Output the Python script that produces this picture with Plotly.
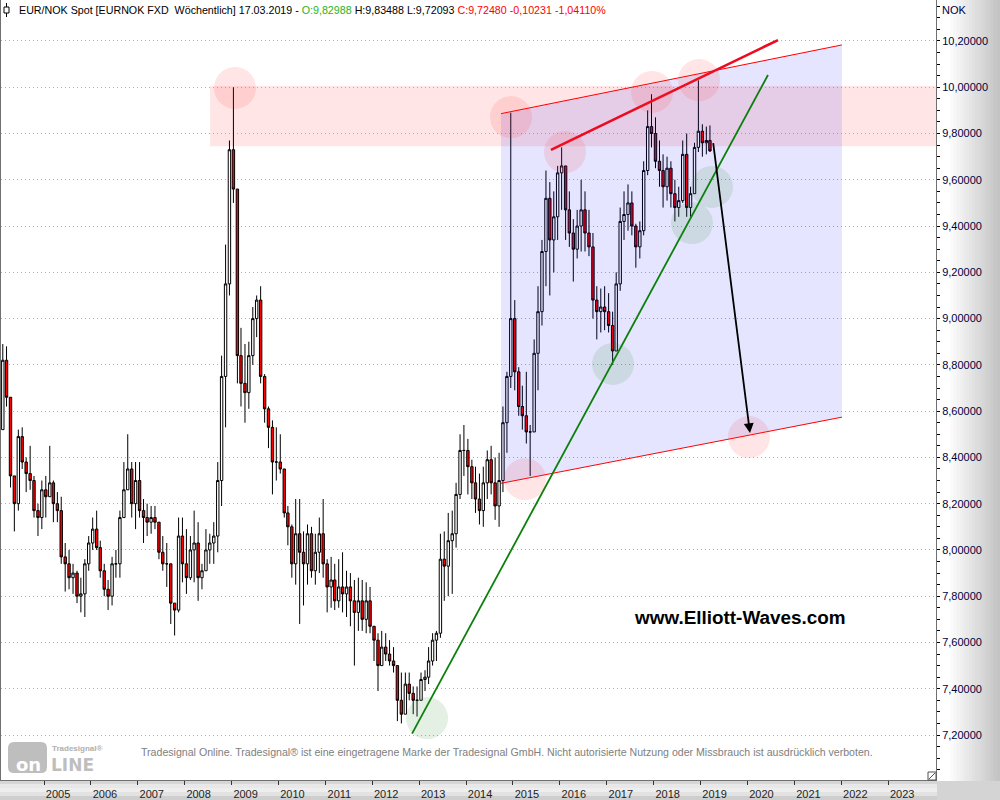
import plotly.graph_objects as go
import pandas as pd

# ---------------- data (monthly OHLC) ----------------
first_month = "2004-02-01"
first_open = 8.52

closes = [
    8.82, 8.66, 8.32, 8.20, 8.49, 8.38, 8.33, 8.30, 8.17, 8.14, 8.26,          # 2004 Feb-Dec
    8.23, 8.29, 8.20, 8.17, 7.97, 7.94, 7.88, 7.90, 7.80, 7.81, 7.94, 8.03,    # 2005
    8.09, 8.01, 7.91, 7.83, 7.80, 7.94, 7.94, 8.14, 8.26, 8.35, 8.20, 8.30,    # 2006
    8.17, 8.14, 8.12, 8.14, 8.12, 7.99, 7.94, 7.94, 7.77, 7.74, 8.06, 7.94,    # 2007
    7.88, 8.00, 8.03, 7.88, 7.91, 8.00, 8.03, 8.06, 8.30, 8.75, 9.15, 9.73,    # 2008
    9.56, 8.84, 8.72, 8.68, 8.84, 9.00, 9.08, 8.75, 8.61, 8.53, 8.38, 8.38,    # 2009
    8.35, 8.16, 8.10, 7.94, 8.07, 7.99, 7.94, 8.07, 7.91, 7.99, 8.07, 7.94,    # 2010
    7.84, 7.87, 7.78, 7.84, 7.81, 7.84, 7.78, 7.73, 7.78, 7.70, 7.78, 7.67,    # 2011
    7.61, 7.50, 7.58, 7.55, 7.52, 7.50, 7.35, 7.29, 7.42, 7.38, 7.35, 7.35,    # 2012
    7.44, 7.45, 7.52, 7.61, 7.64, 7.96, 7.93, 8.04, 8.07, 8.24, 8.43, 8.43,    # 2013
    8.36, 8.29, 8.22, 8.17, 8.29, 8.39, 8.29, 8.19, 8.30, 8.55, 8.75, 9.00,    # 2014
    8.77, 8.62, 8.58, 8.51, 8.51, 8.85, 9.03, 9.29, 9.52, 9.34, 9.44, 9.63,    # 2015
    9.66, 9.47, 9.37, 9.30, 9.40, 9.47, 9.37, 9.31, 9.08, 9.03, 9.05, 9.03,    # 2016
    8.97, 8.86, 9.15, 9.42, 9.45, 9.50, 9.40, 9.31, 9.38, 9.64, 9.83, 9.80,    # 2017
    9.68, 9.64, 9.57, 9.65, 9.54, 9.48, 9.51, 9.71, 9.48, 9.54, 9.74, 9.81,    # 2018
    9.76, 9.77, 9.7248,                                                        # 2019 Jan-Mar
]
highs = [
    8.89, 8.88, 8.66, 8.32, 8.52, 8.53, 8.40, 8.45, 8.32, 8.20, 8.30,
    8.32, 8.45, 8.30, 8.25, 8.23, 8.03, 8.00, 7.94, 7.91, 7.88, 7.96, 8.06,
    8.14, 8.17, 8.04, 7.94, 7.87, 7.97, 8.00, 8.17, 8.38, 8.50, 8.38, 8.38,
    8.38, 8.22, 8.20, 8.19, 8.19, 8.12, 8.06, 8.03, 7.94, 7.77, 8.14, 8.14,
    8.09, 8.06, 8.17, 8.12, 7.94, 8.09, 8.07, 8.12, 8.38, 8.84, 9.32, 9.77,
    10.00, 9.56, 8.96, 8.89, 8.90, 9.05, 9.10, 9.14, 8.76, 8.62, 8.56, 8.53,
    8.50, 8.35, 8.19, 8.11, 8.22, 8.22, 8.08, 8.11, 8.10, 8.07, 8.14, 8.22,
    7.96, 7.97, 7.94, 7.96, 7.99, 7.91, 7.90, 7.87, 7.88, 7.87, 7.86, 7.84,
    7.67, 7.64, 7.65, 7.64, 7.61, 7.58, 7.50, 7.47, 7.47, 7.47, 7.41, 7.41,
    7.47, 7.48, 7.58, 7.64, 7.65, 8.07, 8.08, 8.16, 8.17, 8.29, 8.50, 8.54,
    8.48, 8.39, 8.36, 8.33, 8.36, 8.43, 8.45, 8.40, 8.42, 8.62, 8.77, 9.89,
    9.08, 8.79, 8.71, 8.77, 8.54, 8.91, 9.14, 9.34, 9.64, 9.59, 9.55, 9.66,
    9.74, 9.60, 9.55, 9.43, 9.47, 9.60, 9.55, 9.47, 9.37, 9.14, 9.13, 9.14,
    9.11, 9.03, 9.20, 9.48, 9.55, 9.58, 9.55, 9.41, 9.42, 9.68, 9.90, 9.97,
    9.87, 9.77, 9.71, 9.70, 9.68, 9.60, 9.57, 9.77, 9.80, 9.57, 9.76, 10.03,
    9.84, 9.83, 9.835,
]
lows = [
    8.52, 8.62, 8.27, 8.08, 8.17, 8.35, 8.25, 8.26, 8.14, 8.06, 8.09,
    8.14, 8.23, 8.12, 8.12, 7.94, 7.82, 7.83, 7.81, 7.77, 7.73, 7.71, 7.91,
    8.00, 8.00, 7.88, 7.80, 7.74, 7.76, 7.88, 7.88, 8.14, 8.26, 8.14, 8.09,
    8.14, 8.03, 8.06, 8.07, 8.09, 7.96, 7.91, 7.84, 7.68, 7.63, 7.73, 7.86,
    7.81, 7.87, 7.86, 7.78, 7.83, 7.91, 7.94, 7.94, 7.99, 8.19, 8.53, 9.10,
    9.50, 8.72, 8.62, 8.55, 8.61, 8.80, 8.92, 8.72, 8.55, 8.44, 8.24, 8.30,
    8.33, 8.14, 8.02, 7.88, 7.85, 7.68, 7.76, 7.85, 7.88, 7.85, 7.90, 7.88,
    7.73, 7.75, 7.74, 7.75, 7.73, 7.71, 7.67, 7.50, 7.65, 7.65, 7.64, 7.64,
    7.52, 7.39, 7.50, 7.52, 7.50, 7.47, 7.26, 7.25, 7.32, 7.35, 7.29, 7.28,
    7.35, 7.39, 7.42, 7.50, 7.52, 7.62, 7.78, 7.80, 7.81, 8.01, 8.22, 8.32,
    8.24, 8.22, 8.16, 8.11, 8.10, 8.22, 8.24, 8.13, 8.10, 8.25, 8.42, 8.70,
    8.69, 8.58, 8.52, 8.46, 8.32, 8.51, 8.69, 8.97, 9.14, 9.10, 9.20, 9.34,
    9.47, 9.34, 9.31, 9.16, 9.26, 9.29, 9.29, 9.27, 9.00, 8.91, 8.94, 8.95,
    8.94, 8.80, 8.86, 9.12, 9.34, 9.38, 9.36, 9.22, 9.26, 9.36, 9.62, 9.74,
    9.65, 9.57, 9.48, 9.51, 9.48, 9.42, 9.44, 9.50, 9.44, 9.44, 9.54, 9.72,
    9.70, 9.71, 9.72,
]

year_ticks = list(range(2005, 2024))
price_ticks = [7.2, 7.4, 7.6, 7.8, 8.0, 8.2, 8.4, 8.6, 8.8, 9.0, 9.2, 9.4, 9.6, 9.8, 10.0, 10.2]

# drawn analysis objects (date, price)
channel_top = [("2014-09-30", 9.886), ("2022-01-06", 10.183)]
channel_bottom = [("2014-09-30", 8.288), ("2022-01-06", 8.574)]
resistance_line = [("2015-10-24", 9.729), ("2020-08-26", 10.204)]
support_line = [("2012-11-06", 7.206), ("2020-06-09", 10.053)]
forecast_arrow = [("2019-04-08", 9.765), ("2020-01-21", 8.505)]
zone_start = "2008-07-17"
zone_prices = (9.745, 10.005)
pink_marks = [("2009-01-27", 9.997), ("2014-12-17", 9.871), ("2016-02-10", 9.72),
              ("2017-12-19", 9.98), ("2018-12-20", 10.031), ("2015-04-05", 8.306),
              ("2020-01-13", 8.488)]
green_marks = [("2013-03-03", 7.273), ("2017-02-18", 8.804), ("2018-10-26", 9.413),
               ("2019-03-31", 9.569)]

# ---------------- build ----------------
dates = pd.date_range(first_month, periods=len(closes), freq="MS") + pd.Timedelta(days=14)
opens = [first_open] + closes[:-1]
hi = [max(h, o, c) for h, o, c in zip(highs, opens, closes)]
lo = [min(l, o, c) for l, o, c in zip(lows, opens, closes)]

FONT = "Liberation Sans, Arial, sans-serif"
PW, PH = 935.0, 780.0


def pxx(x):
    return (x - 1) / PW


def pyy(y):
    return 1 - y / PH


fig = go.Figure()

# channel fill
fig.add_trace(go.Scatter(
    x=[channel_top[0][0], channel_top[1][0], channel_bottom[1][0], channel_bottom[0][0]],
    y=[channel_top[0][1], channel_top[1][1], channel_bottom[1][1], channel_bottom[0][1]],
    fill="toself", fillcolor="rgba(0,0,255,0.10)", mode="lines",
    line=dict(width=0, color="rgba(0,0,0,0)"), hoverinfo="skip", showlegend=False))

fig.add_trace(go.Candlestick(
    x=dates, open=opens, high=hi, low=lo, close=closes,
    increasing=dict(line=dict(color="black", width=1), fillcolor="white"),
    decreasing=dict(line=dict(color="black", width=1), fillcolor="#ff0000"),
    whiskerwidth=0, hoverinfo="skip", showlegend=False))

for seg, col, w in [(channel_top, "#ff0000", 1), (channel_bottom, "#ff0000", 1),
                    (resistance_line, "#ee0a1e", 2.6), (support_line, "#0a800a", 1.8)]:
    fig.add_trace(go.Scatter(x=[p[0] for p in seg], y=[p[1] for p in seg], mode="lines",
                             line=dict(color=col, width=w), hoverinfo="skip", showlegend=False))

shapes = []
# resistance zone
shapes.append(dict(type="rect", xref="x", yref="y", x0=zone_start, x1="2024-06-01",
                   y0=zone_prices[0], y1=zone_prices[1], fillcolor="rgba(255,0,0,0.10)",
                   line=dict(width=0), layer="below"))
# circles
for d, p in pink_marks:
    shapes.append(dict(type="circle", xref="x", yref="y", xsizemode="pixel", ysizemode="pixel",
                       xanchor=d, yanchor=p, x0=-21, x1=21, y0=-21, y1=21,
                       fillcolor="rgba(255,40,40,0.12)", line=dict(width=0), layer="above"))
for d, p in green_marks:
    shapes.append(dict(type="circle", xref="x", yref="y", xsizemode="pixel", ysizemode="pixel",
                       xanchor=d, yanchor=p, x0=-21, x1=21, y0=-21, y1=21,
                       fillcolor="rgba(40,140,40,0.13)", line=dict(width=0), layer="above"))

# right axis panel gradient
n = 16
for i in range(n):
    x0 = 950 + i * 50 / n
    x1 = 950 + (i + 1) * 50 / n
    g = int(255 - (255 - 196) * (i + 1) / n)
    shapes.append(dict(type="rect", xref="paper", yref="paper", x0=pxx(x0), x1=pxx(x1 + 0.5),
                       y0=pyy(781), y1=pyy(0), fillcolor=f"rgb({g},{g},{g})",
                       line=dict(width=0), layer="below"))
# bottom strip gradient
strip = [(781, 784, 214), (784, 788, 232), (788, 792, 238), (792, 796, 226), (796, 800, 206)]
for y0, y1, g in strip:
    shapes.append(dict(type="rect", xref="paper", yref="paper", x0=pxx(0), x1=pxx(937),
                       y0=pyy(y1), y1=pyy(y0), fillcolor=f"rgb({g},{g},{g})",
                       line=dict(width=0), layer="below"))
shapes.append(dict(type="rect", xref="paper", yref="paper", x0=pxx(937), x1=pxx(1000),
                   y0=pyy(800), y1=pyy(781), fillcolor="rgb(212,212,212)",
                   line=dict(width=0), layer="below"))

# header icon
shapes.append(dict(type="line", xref="paper", yref="paper", x0=pxx(6.5), x1=pxx(6.5),
                   y0=pyy(3), y1=pyy(17), line=dict(color="black", width=1)))
shapes.append(dict(type="rect", xref="paper", yref="paper", x0=pxx(4), x1=pxx(9),
                   y0=pyy(13), y1=pyy(7), fillcolor="white", line=dict(color="black", width=1)))


# logo box (rounded)
def rrect(x0, y0, x1, y1, r):
    X = lambda v: pxx(v)
    Y = lambda v: pyy(v)
    return (f"M{X(x0+r)},{Y(y0)} L{X(x1-r)},{Y(y0)} Q{X(x1)},{Y(y0)} {X(x1)},{Y(y0+r)} "
            f"L{X(x1)},{Y(y1-r)} Q{X(x1)},{Y(y1)} {X(x1-r)},{Y(y1)} L{X(x0+r)},{Y(y1)} "
            f"Q{X(x0)},{Y(y1)} {X(x0)},{Y(y1-r)} L{X(x0)},{Y(y0+r)} Q{X(x0)},{Y(y0)} {X(x0+r)},{Y(y0)} Z")


shapes.append(dict(type="path", xref="paper", yref="paper", path=rrect(8, 742, 47, 773, 6),
                   fillcolor="rgb(190,190,190)", line=dict(width=0)))
# resize grip
shapes.append(dict(type="rect", xref="paper", yref="paper", x0=pxx(928), x1=pxx(936),
                   y0=pyy(780), y1=pyy(772), fillcolor="white", line=dict(color="#555", width=1)))
shapes.append(dict(type="line", xref="paper", yref="paper", x0=pxx(929), x1=pxx(935),
                   y0=pyy(779), y1=pyy(773), line=dict(color="#555", width=1)))

annotations = []
header = ("EUR/NOK Spot [EURNOK FXD&nbsp;&nbsp;Wöchentlich] 17.03.2019 - "
          "<span style='color:#1fb41f'>O:9,82988</span> H:9,83488 L:9,72093 "
          "<span style='color:#ff0000'>C:9,72480 -0,10231 -1,04110%</span>")
annotations.append(dict(xref="paper", yref="paper", x=pxx(17), y=pyy(10), text=header,
                        showarrow=False, xanchor="left", yanchor="middle",
                        font=dict(family=FONT, size=10.7, color="#000000")))
annotations.append(dict(xref="paper", yref="paper", x=pxx(940), y=pyy(10), text="NOK",
                        showarrow=False, xanchor="left", yanchor="middle",
                        font=dict(family=FONT, size=11, color="#00003c")))
annotations.append(dict(xref="paper", yref="paper", x=pxx(740), y=pyy(617),
                        text="<b>www.Elliott-Waves.com</b>", showarrow=False,
                        xanchor="center", yanchor="middle",
                        font=dict(family=FONT, size=18.9, color="#000000")))
annotations.append(dict(xref="paper", yref="paper", x=pxx(139), y=pyy(752),
                        text="Tradesignal Online. Tradesignal® ist eine eingetragene Marke der Tradesignal GmbH. "
                             "Nicht autorisierte Nutzung oder Missbrauch ist ausdrücklich verboten.",
                        showarrow=False, xanchor="left", yanchor="middle",
                        font=dict(family=FONT, size=10.6, color="#808080")))
annotations.append(dict(xref="paper", yref="paper", x=pxx(28), y=pyy(764), text="<b>on</b>",
                        showarrow=False, xanchor="center", yanchor="middle",
                        font=dict(family="DejaVu Sans, sans-serif", size=18, color="white")))
annotations.append(dict(xref="paper", yref="paper", x=pxx(49), y=pyy(765), text="<b>LINE</b>",
                        showarrow=False, xanchor="left", yanchor="middle",
                        font=dict(family="DejaVu Sans, sans-serif", size=17, color="rgb(190,190,190)")))
annotations.append(dict(xref="paper", yref="paper", x=pxx(50), y=pyy(748), text="<b>Tradesignal®</b>",
                        showarrow=False, xanchor="left", yanchor="middle",
                        font=dict(family=FONT, size=8, color="rgb(175,175,175)")))
# forecast arrow
annotations.append(dict(x=forecast_arrow[1][0], y=forecast_arrow[1][1],
                        ax=forecast_arrow[0][0], ay=forecast_arrow[0][1],
                        xref="x", yref="y", axref="x", ayref="y", text="", showarrow=True,
                        arrowhead=2, arrowsize=1.1, arrowwidth=1.8, arrowcolor="black"))

fig.update_layout(
    width=1000, height=800,
    margin=dict(l=1, r=64, t=0, b=20),
    paper_bgcolor="white", plot_bgcolor="white",
    shapes=shapes, annotations=annotations,
    showlegend=False, hovermode=False, boxgap=0.05,
    font=dict(family=FONT, size=11),
    xaxis=dict(type="date", range=["2004-02-01", "2024-01-08 12:00"],
               rangeslider=dict(visible=False),
               tickvals=[f"{y}-01-01" for y in year_ticks], ticktext=[str(y) for y in year_ticks],
               ticks="outside", ticklen=4, tickcolor="#333333", ticklabelshift=14,
               tickfont=dict(family=FONT, size=11, color="#1e1e1e"),
               showgrid=False, zeroline=False, showline=True, mirror=True,
               linecolor="#707070", linewidth=1, fixedrange=True),
    yaxis=dict(side="right", range=[7.0055, 10.3772],
               tickvals=price_ticks, ticktext=[f"{v:.5f}".replace(".", ",") for v in price_ticks],
               ticks="outside", ticklen=3, tickcolor="#000000",
               minor=dict(ticks="outside", ticklen=3, tick0=7.2, dtick=0.05, tickcolor="#000000",
                          showgrid=False),
               tickfont=dict(family=FONT, size=11, color="#00003c"),
               showgrid=True, gridcolor="#a9b3a9", gridwidth=1, griddash="1px,3px",
               zeroline=False, showline=True, mirror=True, linecolor="#707070", linewidth=1,
               fixedrange=True),
)

fig.write_html("out.html", config={"displayModeBar": False},
               post_script="document.body.style.margin='0px';document.body.style.overflow='hidden';")
